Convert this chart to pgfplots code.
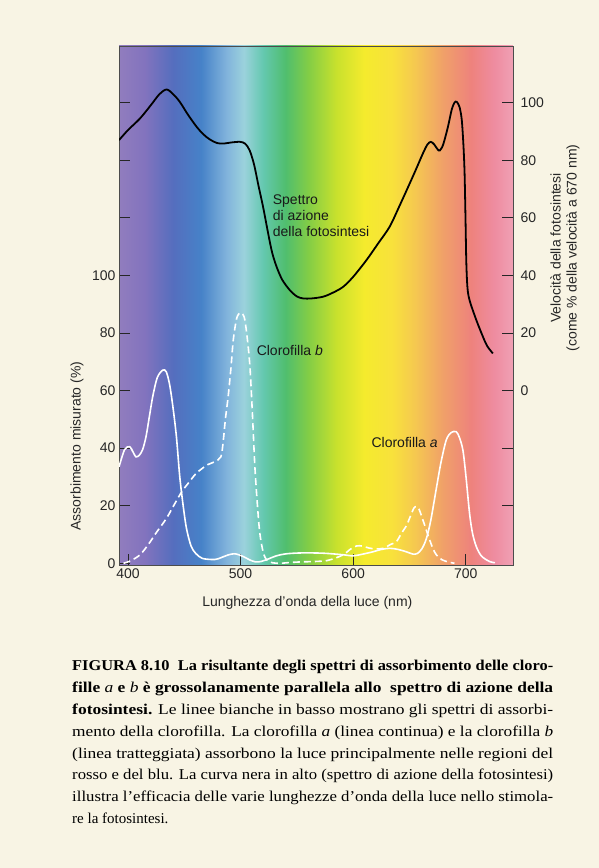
\documentclass[border=0pt]{standalone}
\usepackage{fontspec}
\setmainfont{Liberation Sans}
\newfontfamily\capfont{Liberation Serif}
\usepackage{graphicx}
\usepackage{pgfplots}
\pgfplotsset{compat=1.18}

\definecolor{cream}{RGB}{248,244,228}
\definecolor{s1}{RGB}{145,125,190}
\definecolor{s2}{RGB}{130,115,190}
\definecolor{s3}{RGB}{85,110,190}
\definecolor{s4}{RGB}{70,130,200}
\definecolor{s5}{RGB}{130,180,220}
\definecolor{s6}{RGB}{155,210,220}
\definecolor{s7}{RGB}{100,200,175}
\definecolor{s8}{RGB}{80,190,110}
\definecolor{s9}{RGB}{130,205,70}
\definecolor{s10}{RGB}{200,225,45}
\definecolor{s11}{RGB}{245,235,45}
\definecolor{s12}{RGB}{248,225,60}
\definecolor{s13}{RGB}{245,200,80}
\definecolor{s14}{RGB}{240,160,105}
\definecolor{s15}{RGB}{238,130,125}
\definecolor{s16}{RGB}{238,140,160}
\definecolor{s17}{RGB}{240,160,180}

% wavelength w -> 25 + (w-392)/7 bp
\pgfdeclarehorizontalshading{spectrum}{100bp}{%
color(0bp)=(s1); color(25bp)=(s1); color(28.29bp)=(s2); color(31.86bp)=(s3);
color(35.43bp)=(s4); color(38.71bp)=(s5); color(40.86bp)=(s6); color(43.29bp)=(s7);
color(46.14bp)=(s8); color(49bp)=(s9); color(52.57bp)=(s10); color(56.14bp)=(s11);
color(59.71bp)=(s12); color(62.57bp)=(s13); color(66.14bp)=(s14); color(69.71bp)=(s15);
color(72.57bp)=(s16); color(75bp)=(s17); color(100bp)=(s17)}

\newcommand\capline[1]{\resizebox{481pt}{\height}{#1}}
\newcommand\lblfont{\fontsize{14}{16}\selectfont}

\begin{document}
\begin{tikzpicture}
\path[use as bounding box, fill=cream] (0,0) rectangle (599pt,868pt);

\begin{axis}[
  at={(119pt,303pt)}, anchor=south west, scale only axis,
  width=394pt, height=519pt,
  xmin=392, xmax=742, ymin=-0.6, ymax=179.7,
  axis background/.style={shade, shading=spectrum},
  axis line style={draw=black!70, line width=0.6pt},
  tick pos=left, tick align=inside,
  major tick length=11pt,
  every tick/.style={black!85, line width=0.9pt},
  xtick={400,500,600,700}, xticklabels={400,500,600,700},
  ytick={0,20,...,160}, yticklabels={0,20,40,60,80,100,,,},
  tick label style={font=\lblfont, text=black!85},
  xlabel={Lunghezza d'onda della luce (nm)},
  ylabel={Assorbimento misurato (\%)},
  label style={font=\lblfont, text=black!85},
  xlabel style={at={(axis description cs:0.478,-0.0732)}, anchor=center},
  ylabel style={at={(axis description cs:-0.1066,0.2293)}, anchor=center},
]
% Clorofilla b (dashed)
\addplot[white, line width=1.6pt, dash pattern=on 7pt off 4pt, smooth, tension=0.5] coordinates {
(396,0) (402,0.8) (410.6,2.9) (418,6.5) (425.4,10.8) (434,15.5) (441.7,20.8)
(448,25) (453.5,27.8) (460,31) (465.4,32.8) (471,34.3) (477.2,35.3) (482.5,37)
(484.5,42) (486.5,50) (489,58) (491.5,68) (493.5,77.5) (496.5,85) (499.4,87)
(502,86.5) (503.8,84.5) (506,78) (508.3,68.3) (510.5,52) (512.7,33.5) (515,20)
(517.1,10.4) (520,4) (523,1.2) (528,0.2) (535,0) (545,0.3) (555,0.5) (565,0.6)
(576.4,0.9) (584,1.8) (591,2.9) (598,5) (603,6) (608,6) (614,5.3) (620,5)
(627,5.2) (633,6.5) (638.4,7.5) (643,10.5) (647.3,13) (651,16.5) (654,19.2)
(656.2,19.7) (658.5,18.8) (662,15) (665,11.5) (668,8.1) (671,5) (674,2.9)
(679,1.2) (685,0.4) (690,0)
};
% Clorofilla a (solid)
\addplot[white, line width=1.6pt, smooth, tension=0.5] coordinates {
(392,33.5) (397,39.5) (401.5,40.5) (404,39) (407,37) (410,37.5) (413,39.5)
(416,44) (419,51) (422,58) (426,64.5) (430.8,67.1) (434,66.5) (437,62)
(440,54) (443,44) (446,30) (449,20) (452,12) (456,6) (460,3.5) (466,1.7)
(477,1.3) (483,2) (489,2.9) (495,3.3) (502,2.4) (508,1.2) (513,0.5) (518,0.6)
(524,1.4) (532,2.6) (540.8,3.3) (555,3.6) (573.3,3.5) (590,3) (600,2.6)
(610,3.3) (617.7,4) (625,4.8) (632.5,5.2) (640,4.8) (647.2,4) (653,3.2)
(657,3.4) (661,5) (665,8.5) (669,15) (673.9,26) (678,35) (682.7,42.8)
(687,45.4) (691.6,45.7) (694.5,43.6) (697.5,39.3) (700,31) (703.4,17.4)
(706,10.5) (709.4,5.8) (714,2.5) (721.2,0.6) (726,0.2)
};
\node[anchor=north west, align=left, inner sep=0, font=\lblfont, text=black!90]
  at (axis cs:528.5,128) {Spettro\\di azione\\della fotosintesi};
\node[anchor=west, inner sep=0, font=\lblfont, text=black!90]
  at (axis cs:514.2,74) {Clorofilla \textit{b}};
\node[anchor=west, inner sep=0, font=\lblfont, text=black!90]
  at (axis cs:616.2,42) {Clorofilla \textit{a}};
\end{axis}

\begin{axis}[
  at={(119pt,303pt)}, anchor=south west, scale only axis,
  width=394pt, height=519pt,
  xmin=392, xmax=742, ymin=-60.6, ymax=119.7,
  hide x axis, axis y line*=right,
  axis line style={draw=black!70, line width=0.6pt},
  tick align=inside, major tick length=11pt,
  every tick/.style={black!85, line width=0.9pt},
  ytick={-40,-20,0,20,40,60,80,100}, yticklabels={,,0,20,40,60,80,100},
  tick label style={font=\lblfont, text=black!85},
  yticklabel style={xshift=4pt},
  ylabel={Velocità della fotosintesi\\(come \% della velocità a 670 nm)},
  label style={font=\lblfont, text=black!85},
  ylabel style={align=center, at={(axis description cs:1.132,0.611)}, anchor=center},
]
\addplot[black, line width=1.8pt, smooth, tension=0.5] coordinates {
(392,87) (400,90.5) (410.6,94.5) (420,99) (428,103) (434.3,104.6) (440,103)
(446,100.3) (453,96) (461,91.6) (467,89) (472.8,87.2) (479,86) (484.6,85.8)
(492,86.2) (499.4,86.4) (504,85.8) (508,83.5) (512,78.5) (516,71) (520,63.8)
(524.5,54.6) (528,48) (532,43) (537,38.5) (543.7,34.9) (550,32.7) (555.6,32)
(563,32) (573.3,32.6) (582,34) (591,36) (600,39.5) (611.8,45.3) (622,51)
(632.4,56.9) (641,64) (650.2,71.9) (656,77) (662,82.4) (666,85.5) (669,86.4)
(672,85.5) (675,83.8) (677,83.4) (680,85.5) (684.2,91.6) (687.5,97.5) (690,100)
(692,100.3) (694.5,98.5) (696.5,94) (698,85) (699,75.4) (699.8,60) (700.5,45)
(701.5,36) (703.4,31.4) (709.4,24.5) (715.3,18.7) (719,15.5) (724.1,12.9)
};
\end{axis}

% caption
\begin{scope}[every node/.style={anchor=base west, inner sep=0}]
\node at (72pt,197.5pt) {\capfont\fontsize{15}{18}\selectfont\capline{\bfseries FIGURA 8.10\ \ La risultante degli spettri di assorbimento delle cloro-}};
\node at (72pt,175.6pt) {\capfont\fontsize{15}{18}\selectfont\capline{\bfseries fille \textmd{\textit{a}} e \textmd{\textit{b}} è grossolanamente parallela allo\ \ spettro di azione della}};
\node at (72pt,153.7pt) {\capfont\fontsize{15}{18}\selectfont\capline{\textbf{fotosintesi.} Le linee bianche in basso mostrano gli spettri di assorbi-}};
\node at (72pt,131.8pt) {\capfont\fontsize{15}{18}\selectfont\capline{mento della clorofilla. La clorofilla \textit{a} (linea continua) e la clorofilla \textit{b}}};
\node at (72pt,109.9pt) {\capfont\fontsize{15}{18}\selectfont\capline{(linea tratteggiata) assorbono la luce principalmente nelle regioni del}};
\node at (72pt,88pt) {\capfont\fontsize{15}{18}\selectfont\capline{rosso e del blu. La curva nera in alto (spettro di azione della fotosintesi)}};
\node at (72pt,66.1pt) {\capfont\fontsize{15}{18}\selectfont\capline{illustra l’efficacia delle varie lunghezze d’onda della luce nello stimola-}};
\node at (72pt,44.2pt) {\capfont\fontsize{15}{18}\selectfont re la fotosintesi.};
\end{scope}
\end{tikzpicture}
\end{document}
